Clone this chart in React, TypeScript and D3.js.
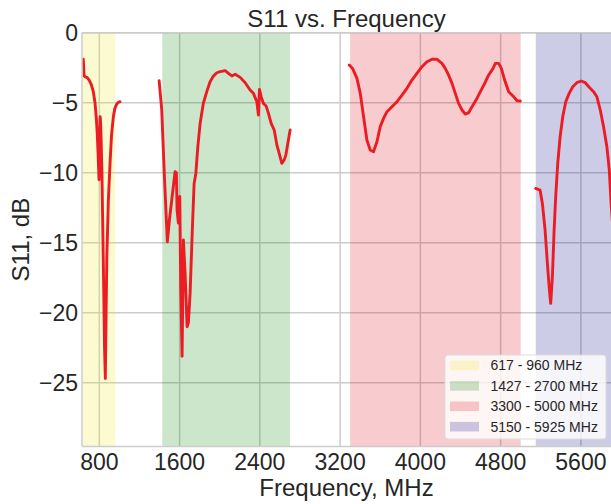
import React from "react";
import * as d3 from "d3";

const bandLabels = ["617 - 960 MHz", "1427 - 2700 MHz", "3300 - 5000 MHz", "5150 - 5925 MHz"];
const bandStart = [617, 1427, 3300, 5150];
const bandEnd = [960, 2700, 5000, 5925];
const bandColors = ["rgb(240,230,20)", "rgb(0,128,0)", "rgb(222,0,8)", "rgb(0,0,128)"];

const xTicks = [800, 1600, 2400, 3200, 4000, 4800, 5600];
const yTicks = [0, -5, -10, -15, -20, -25];

// S11 segments: [frequency MHz, dB]
const seg1: [number, number][] = [
  [640, -1.9], [644, -2.4], [648, -3.1], [660, -3.15], [680, -3.2], [700, -3.4], [720, -3.7],
  [740, -4.2], [757, -5.0], [770, -6.1], [780, -7.3], [788, -8.7], [797, -10.5], [803, -7.5],
  [808, -6.0], [812, -6.3], [818, -7.6], [826, -10.0], [840, -16.5], [852, -22.5], [860, -24.7],
  [866, -21.0], [875, -16.0], [890, -12.0], [907, -9.3], [922, -7.3], [940, -6.0], [955, -5.4],
  [973, -5.1], [990, -4.97], [1006, -4.93],
];
const seg2: [number, number][] = [
  [1396, -3.43], [1422, -5.5], [1449, -10.3], [1478, -14.93], [1500, -13.3], [1522, -11.95],
  [1555, -9.93], [1568, -10.0], [1575, -12.66], [1588, -13.6], [1602, -11.7], [1612, -18.4],
  [1625, -23.1], [1638, -14.8], [1655, -17.2], [1675, -21.0], [1688, -20.7], [1705, -18.6],
  [1728, -13.86], [1745, -10.76], [1762, -10.05], [1782, -8.14], [1805, -6.47], [1837, -5.04],
  [1871, -4.21], [1904, -3.5], [1937, -3.1], [1971, -2.86], [2004, -2.78], [2054, -2.71],
  [2087, -2.9], [2121, -3.09], [2154, -2.97], [2204, -3.19], [2254, -3.57], [2303, -4.09],
  [2336, -4.33], [2370, -4.93], [2386, -5.88], [2396, -4.05], [2413, -4.57], [2436, -5.05],
  [2463, -5.24], [2486, -5.76], [2513, -6.47], [2543, -6.95], [2570, -8.02], [2593, -8.62],
  [2619, -9.33], [2642, -9.1], [2659, -8.74], [2679, -7.9], [2702, -6.95],
];
const seg3: [number, number][] = [
  [3291, -2.31], [3324, -2.55], [3368, -3.26], [3401, -4.33], [3434, -6.0], [3467, -7.67],
  [3500, -8.38], [3533, -8.5], [3567, -7.79], [3600, -6.71], [3633, -6.12], [3667, -5.64],
  [3717, -5.29], [3767, -4.93], [3817, -4.45], [3866, -3.97], [3916, -3.38], [3966, -2.9],
  [4016, -2.43], [4066, -2.07], [4116, -1.9], [4166, -1.9], [4215, -2.19], [4248, -2.55],
  [4281, -3.02], [4315, -3.62], [4348, -4.33], [4381, -5.05], [4415, -5.52], [4448, -5.81],
  [4481, -5.71], [4515, -5.29], [4555, -4.81], [4598, -4.21], [4641, -3.62], [4681, -3.02],
  [4725, -2.55], [4747, -2.19], [4780, -2.19], [4807, -2.55], [4840, -3.38], [4880, -4.21],
  [4930, -4.57], [4963, -4.86], [4996, -4.88],
];
const seg4: [number, number][] = [
  [5149, -11.12], [5193, -11.24], [5216, -12.19], [5243, -14.09], [5266, -16.47], [5286, -18.38],
  [5299, -19.33], [5316, -17.43], [5333, -14.09], [5349, -11.71], [5369, -9.33], [5393, -7.43],
  [5419, -6.0], [5449, -4.93], [5483, -4.33], [5519, -3.86], [5559, -3.57], [5603, -3.45],
  [5643, -3.57], [5683, -3.9], [5726, -4.21], [5759, -4.57], [5793, -5.52], [5826, -6.71],
  [5859, -8.14], [5883, -9.81], [5903, -12.43], [5925, -14.5],
];
const segments = [seg1, seg2, seg3, seg4];

const W = 611;
const H = 504;
const left = 82;
const right = 611;
const top = 32.7;
const bottom = 446.5;
const FONT = "'Liberation Sans', Arial, Helvetica, sans-serif";
const TEXT = "#262626";

export default function App() {
  const x = d3.scaleLinear().domain([627.4, 5900]).range([left, right]);
  const y = d3.scaleLinear().domain([-29.55, 0]).range([bottom, top]);
  const line = d3
    .line<[number, number]>()
    .x((d) => x(d[0]))
    .y((d) => y(d[1]));

  const legendX = 445;
  const legendY = 355;
  const rowH = 20.4;

  return (
    <svg
      width={W}
      height={H}
      style={{ position: "fixed", left: 0, top: 0, background: "#fff" }}
      fontFamily={FONT}
    >
      <defs>
        <clipPath id="plot">
          <rect x={left} y={top} width={right - left} height={bottom - top} />
        </clipPath>
      </defs>
      <rect x={0} y={0} width={W} height={H} fill="#fff" />
      {/* grid */}
      <g stroke="#cccccc" strokeWidth={1.5}>
        {xTicks.map((t) => (
          <line key={"gx" + t} x1={x(t)} x2={x(t)} y1={top} y2={bottom} />
        ))}
        {yTicks.map((t) => (
          <line key={"gy" + t} x1={left} x2={right} y1={y(t)} y2={y(t)} />
        ))}
      </g>
      {/* bands */}
      <g clipPath="url(#plot)">
        {bandStart.map((s, i) => (
          <rect
            key={"b" + i}
            x={x(s)}
            y={top}
            width={x(bandEnd[i]) - x(s)}
            height={bottom - top}
            fill={bandColors[i]}
            fillOpacity={0.2}
          />
        ))}
      </g>
      {/* lines */}
      <g clipPath="url(#plot)">
        {segments.map((s, i) => (
          <path
            key={"s" + i}
            d={line(s) || ""}
            fill="none"
            stroke="#ec1c24"
            strokeWidth={2.9}
            strokeLinejoin="round"
            strokeLinecap="round"
          />
        ))}
      </g>
      {/* spines */}
      <g stroke="#cccccc" strokeWidth={1.5} fill="none">
        <line x1={left} x2={left} y1={top} y2={bottom} />
        <line x1={left} x2={right} y1={top} y2={top} />
        <line x1={left} x2={right} y1={bottom} y2={bottom} />
      </g>
      {/* tick labels */}
      <g fill={TEXT} fontSize={23}>
        {xTicks.map((t) => (
          <text key={"xl" + t} x={x(t)} y={470} textAnchor="middle">
            {String(t)}
          </text>
        ))}
        {yTicks.map((t) => (
          <text key={"yl" + t} x={78} y={y(t)} dy="0.35em" textAnchor="end">
            {t === 0 ? "0" : "\u2212" + Math.abs(t)}
          </text>
        ))}
      </g>
      {/* axis labels & title */}
      <text x={(left + right) / 2} y={496} textAnchor="middle" fontSize={24} fill={TEXT}>
        Frequency, MHz
      </text>
      <text
        transform={`translate(29,${(top + bottom) / 2}) rotate(-90)`}
        textAnchor="middle"
        fontSize={24}
        fill={TEXT}
      >
        S11, dB
      </text>
      <text x={(left + right) / 2} y={27} textAnchor="middle" fontSize={24} fill={TEXT}>
        S11 vs. Frequency
      </text>
      {/* legend */}
      <g>
        <rect
          x={legendX}
          y={legendY}
          width={161}
          height={84}
          rx={3}
          fill="#ffffff"
          fillOpacity={0.8}
          stroke="#dddddd"
          strokeWidth={1}
        />
        {bandLabels.map((lab, i) => {
          const cy = legendY + 10.5 + i * rowH;
          return (
            <g key={"lg" + i}>
              <rect x={450} y={cy - 4.8} width={29} height={9.6} fill={bandColors[i]} fillOpacity={0.2} />
              <text x={490.5} y={cy} dy="0.35em" fontSize={14} fill={TEXT}>
                {lab}
              </text>
            </g>
          );
        })}
      </g>
    </svg>
  );
}
